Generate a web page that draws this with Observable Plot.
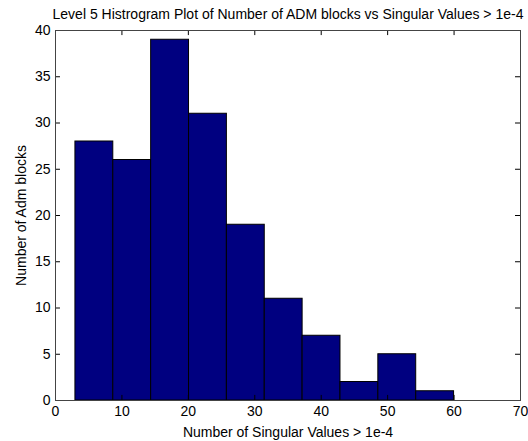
<!DOCTYPE html>
<html>
<head>
<meta charset="utf-8">
<script src="https://cdn.jsdelivr.net/npm/d3@7"></script>
<script src="https://cdn.jsdelivr.net/npm/@observablehq/plot@0.6"></script>
<style>
  html, body { margin: 0; padding: 0; background: #fff; }
  #chart svg { display: block; }
</style>
</head>
<body>
<div id="chart"></div>
<script>
// Histogram bin edges (10 bins from 3 to 60)
const binEdges = [3, 8.7, 14.4, 20.1, 25.8, 31.5, 37.2, 42.9, 48.6, 54.3, 60];
// Counts per bin
const counts = [28, 26, 39, 31, 19, 11, 7, 2, 5, 1];
// Tick values
const xTicks = [0, 10, 20, 30, 40, 50, 60, 70];
const yTicks = [0, 5, 10, 15, 20, 25, 30, 35, 40];

const title = "Level 5 Histrogram Plot of Number of ADM blocks vs Singular Values > 1e-4";
const xLabel = "Number of Singular Values > 1e-4";
const yLabel = "Number of Adm blocks";

const bins = counts.map((c, i) => ({x1: binEdges[i], x2: binEdges[i + 1], count: c}));

const font = "Liberation Sans, Arial, Helvetica, sans-serif";
const tickLenX = 0.75;  // in x data units (~5px)
const tickLenY = 0.55;  // in y data units (~5px)

const chart = Plot.plot({
  width: 528,
  height: 441,
  marginTop: 30,
  marginBottom: 41,
  marginLeft: 55,
  marginRight: 8,
  style: {fontFamily: font, fontSize: "14px", color: "#000", background: "#fff"},
  x: {domain: [0, 70]},
  y: {domain: [0, 40]},
  marks: [
    Plot.rectY(bins, {x1: "x1", x2: "x2", y1: 0, y2: "count", fill: "#000080", stroke: "#000", strokeWidth: 1}),
    // inward ticks on all four sides
    Plot.ruleX(xTicks.slice(1, -1), {x: d => d, y1: 0, y2: tickLenY, stroke: "#000"}),
    Plot.ruleX(xTicks.slice(1, -1), {x: d => d, y1: 40, y2: 40 - tickLenY, stroke: "#000"}),
    Plot.ruleY(yTicks.slice(1, -1), {y: d => d, x1: 0, x2: tickLenX, stroke: "#000"}),
    Plot.ruleY(yTicks.slice(1, -1), {y: d => d, x1: 70, x2: 70 - tickLenX, stroke: "#000"}),
    Plot.frame({stroke: "#444"}),
    Plot.axisX(xTicks, {tickSize: 0, tickPadding: 6, label: null, fontSize: 14}),
    Plot.axisY(yTicks, {tickSize: 0, tickPadding: 5, label: null, fontSize: 14}),
    Plot.text([xLabel], {frameAnchor: "bottom", lineAnchor: "bottom", dy: 36, fontSize: 14, text: d => d}),
    Plot.text([yLabel], {frameAnchor: "left", textAnchor: "middle", lineAnchor: "middle", dx: -34, rotate: -90, fontSize: 14, text: d => d}),
    Plot.text([title], {frameAnchor: "top", lineAnchor: "top", dy: -21, fontSize: 14, text: d => d})
  ]
});
document.getElementById("chart").appendChild(chart);
</script>
</body>
</html>
